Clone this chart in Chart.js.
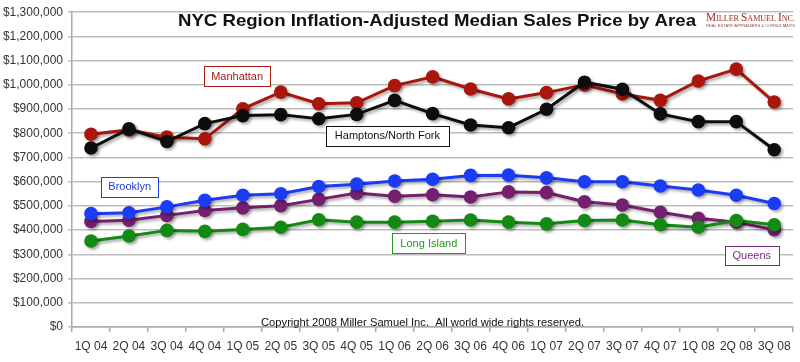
<!DOCTYPE html>
<html>
<head>
<meta charset="utf-8">
<script src="https://cdn.jsdelivr.net/npm/chart.js@4/dist/chart.umd.min.js"></script>
<style>
  html, body { margin: 0; padding: 0; background: #fff; }
  #wrap { width: 800px; height: 362px; position: relative; }
</style>
</head>
<body>
<div id="wrap"><canvas id="c" width="800" height="362"></canvas></div>
<script>
const categories = ["1Q 04","2Q 04","3Q 04","4Q 04","1Q 05","2Q 05","3Q 05","4Q 05","1Q 06","2Q 06","3Q 06","4Q 06","1Q 07","2Q 07","3Q 07","4Q 07","1Q 08","2Q 08","3Q 08"];
const manhattan = [796000,814000,784000,777000,901000,970000,922000,926000,997000,1033000,983000,942000,968000,1000000,962000,936000,1016000,1065000,929000];
const hamptons  = [739000,818000,766000,840000,873000,877000,860000,878000,936000,881000,834000,823000,899000,1011000,982000,880000,848000,848000,732000];
const brooklyn  = [468000,472000,496000,523000,544000,550000,580000,590000,603000,610000,626000,627000,616000,600000,600000,582000,566000,544000,510000];
const queens    = [436000,441000,461000,481000,492000,501000,527000,553000,540000,546000,537000,558000,555000,517000,504000,474000,449000,433000,402000];
const longIsland= [355000,376000,399000,395000,403000,412000,443000,433000,433000,437000,442000,433000,426000,440000,442000,422000,412000,440000,422000];
const yTicks = [0,100000,200000,300000,400000,500000,600000,700000,800000,900000,1000000,1100000,1200000,1300000];

const FONT = "'Liberation Sans', Arial, sans-serif";

function fmtMoney(v){ return "$" + v.toLocaleString("en-US"); }

const shadowPlugin = {
  id: 'shadow',
  beforeDatasetDraw(chart){
    const ctx = chart.ctx;
    ctx.save();
    ctx.shadowColor = 'rgba(0,0,0,0.35)';
    ctx.shadowOffsetX = 2;
    ctx.shadowOffsetY = 2;
    ctx.shadowBlur = 3;
  },
  afterDatasetDraw(chart){
    chart.ctx.restore();
  }
};

// annotation boxes anchored in data space (category index, value)
const labelBoxes = [
  {text:"Manhattan", idx:3.85, val:1035000, color:"#a81c12", w:66, h:20},
  {text:"Hamptons/North Fork", idx:7.81, val:790000, color:"#111111", w:123, h:20},
  {text:"Brooklyn", idx:1.02, val:579000, color:"#1f3fe0", w:57, h:20},
  {text:"Long Island", idx:8.9, val:346000, color:"#1e9a1e", w:73, h:20},
  {text:"Queens", idx:17.41, val:297000, color:"#7b2a85", w:54, h:19}
];

const overlayPlugin = {
  id: 'overlay',
  afterDatasetsDraw(chart){
    const ctx = chart.ctx;
    const xs = chart.scales.x, ys = chart.scales.y;
    ctx.save();
    // label boxes
    labelBoxes.forEach(b => {
      const cx = xs.getPixelForValue(b.idx);
      const cy = ys.getPixelForValue(b.val);
      const x0 = Math.round(cx - b.w/2) + 0.5, y0 = Math.round(cy - b.h/2) + 0.5;
      ctx.fillStyle = "#fff";
      ctx.fillRect(x0, y0, b.w, b.h);
      ctx.strokeStyle = b.color;
      ctx.lineWidth = 1;
      ctx.strokeRect(x0, y0, b.w, b.h);
      ctx.fillStyle = b.color;
      ctx.font = "11px " + FONT;
      ctx.textAlign = "center";
      ctx.textBaseline = "middle";
      ctx.fillText(b.text, cx, cy + 0.5);
    });
    // title
    ctx.fillStyle = "#111";
    ctx.font = "bold 17px " + FONT;
    ctx.textAlign = "left";
    ctx.textBaseline = "middle";
    const title = "NYC Region Inflation-Adjusted Median Sales Price by Area";
    const tw = ctx.measureText(title).width;
    ctx.save();
    ctx.translate(178, 21);
    ctx.scale(518 / tw, 1);
    ctx.fillText(title, 0, 0);
    ctx.restore();
    // logo
    const lc = "#9b2a22";
    ctx.fillStyle = lc;
    ctx.textBaseline = "alphabetic";
    const parts = [["M",12],["ILLER ",8.5],["S",12],["AMUEL ",8.5],["I",12],["NC.",8.5]];
    let total = 0;
    parts.forEach(p => {
      ctx.font = p[1] + "px 'Liberation Serif', 'Times New Roman', serif";
      total += ctx.measureText(p[0]).width;
    });
    ctx.save();
    ctx.translate(706, 21);
    ctx.scale(89 / total, 1);
    let lx = 0;
    parts.forEach(p => {
      ctx.font = p[1] + "px 'Liberation Serif', 'Times New Roman', serif";
      ctx.fillText(p[0], lx, 0);
      lx += ctx.measureText(p[0]).width;
    });
    ctx.restore();
    ctx.font = "4px " + FONT;
    ctx.fillStyle = "#8a4a44";
    const sub = "REAL ESTATE APPRAISERS & CONSULTANTS";
    const sw = ctx.measureText(sub).width;
    ctx.save();
    ctx.translate(706, 27);
    ctx.scale(89 / sw, 1);
    ctx.fillText(sub, 0, 0);
    ctx.restore();
    // copyright
    ctx.fillStyle = "#111";
    ctx.font = "11px " + FONT;
    const cr = "Copyright 2008 Miller Samuel Inc.  All world wide rights reserved.";
    const cw = ctx.measureText(cr).width;
    ctx.save();
    ctx.translate(261, 323);
    ctx.scale(323 / cw, 1);
    ctx.textBaseline = "middle";
    ctx.fillText(cr, 0, 0);
    ctx.restore();
    ctx.restore();
  }
};

function ds(label, data, color){
  return {
    label, data,
    borderColor: color,
    backgroundColor: color,
    pointBackgroundColor: color,
    pointBorderColor: color,
    borderWidth: 3,
    pointRadius: 6.8,
    pointHoverRadius: 6.8,
    pointBorderWidth: 0,
    tension: 0,
    fill: false
  };
}

new Chart(document.getElementById('c'), {
  type: 'line',
  data: {
    labels: categories,
    datasets: [
      ds("Hamptons/North Fork", hamptons, "#0d0d0d"),
      ds("Manhattan", manhattan, "#a8160e"),
      ds("Long Island", longIsland, "#138a13"),
      ds("Brooklyn", brooklyn, "#1a3cf5"),
      ds("Queens", queens, "#74206f")
    ]
  },
  options: {
    responsive: false,
    animation: false,
    devicePixelRatio: 1,
    layout: { padding: { top: 9, right: 2, left: 0, bottom: 0 } },
    plugins: {
      legend: { display: false },
      title: { display: false },
      tooltip: { enabled: false }
    },
    scales: {
      x: {
        offset: true,
        grid: { offset: true, drawOnChartArea: false, drawTicks: true, tickLength: 5, color: "#a9a9a9", lineWidth: 1.5 },
        border: { display: true, color: "#a9a9a9", width: 1.5 },
        ticks: { font: { family: FONT, size: 12 }, color: "#333", padding: 7, maxRotation: 0, autoSkip: false },
        afterFit(scale){ scale.height = 35; }
      },
      y: {
        min: 0, max: 1300000,
        afterBuildTicks(scale){ scale.ticks = yTicks.map(v => ({value: v})); },
        grid: { color: "#bdbdbd", lineWidth: 1.6, tickLength: 4, drawTicks: true },
        border: { display: true, color: "#a9a9a9", width: 1.5 },
        ticks: { font: { family: FONT, size: 12 }, color: "#333", padding: 5, callback: v => fmtMoney(v) },
        afterFit(scale){ scale.width = 72; }
      }
    }
  },
  plugins: [shadowPlugin, overlayPlugin]
});
</script>
</body>
</html>
